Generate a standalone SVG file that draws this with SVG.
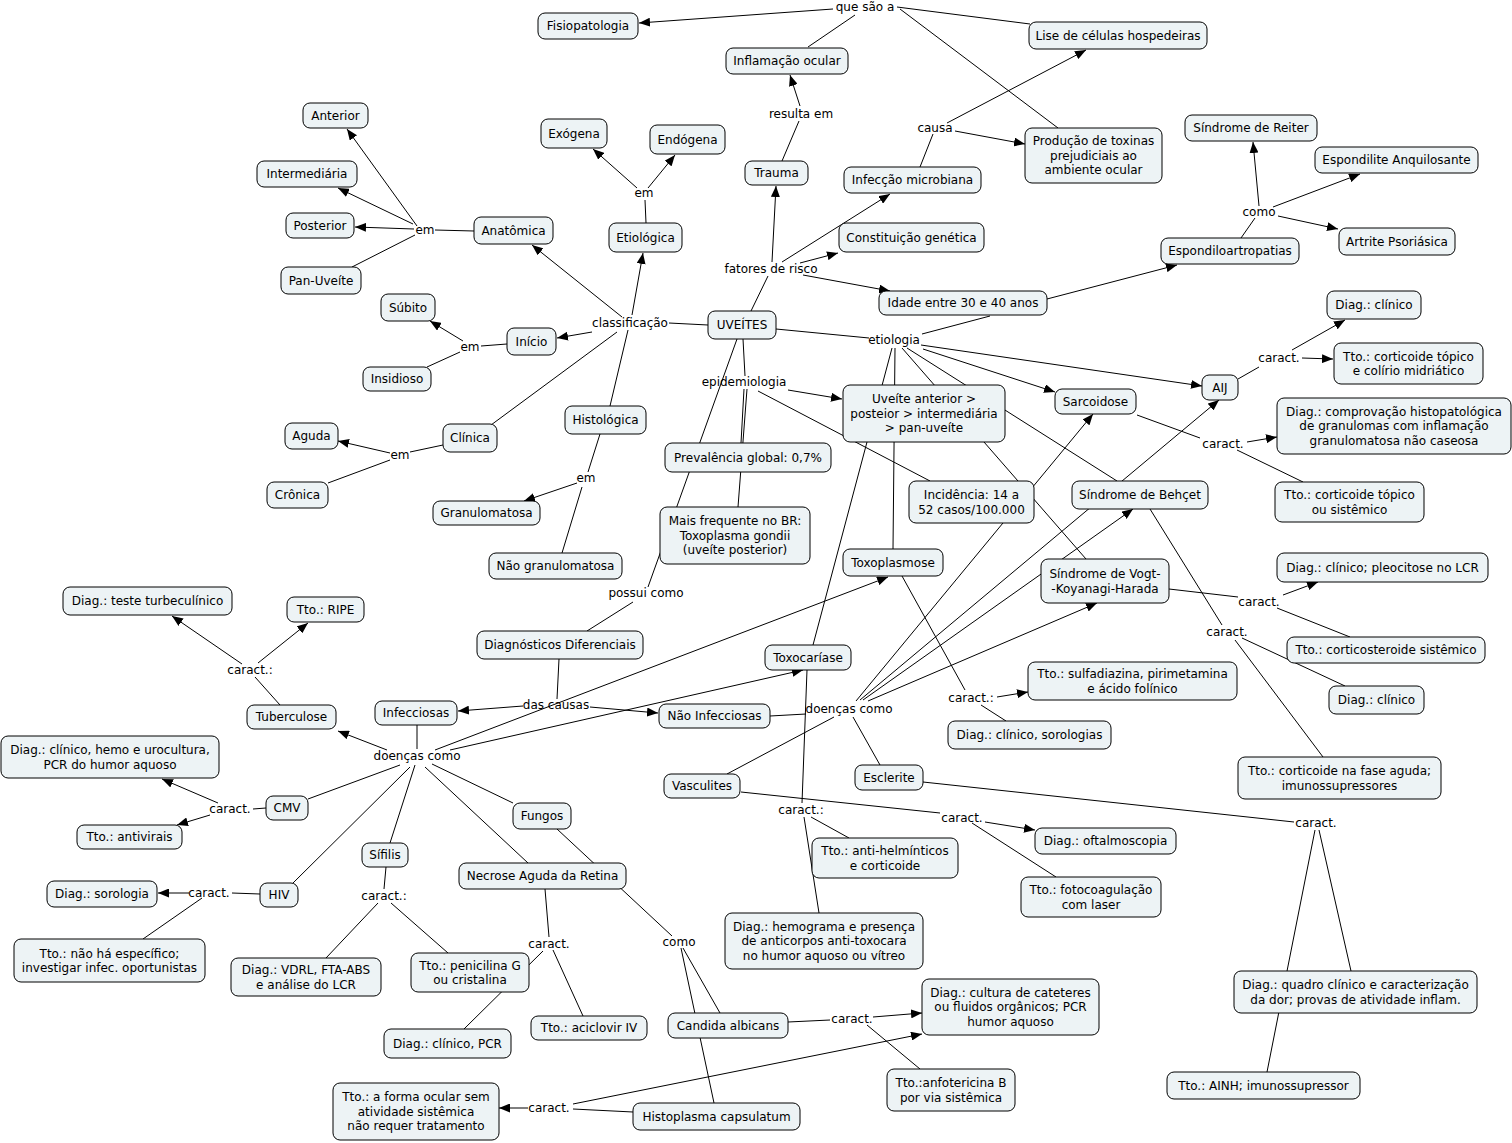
<svg xmlns="http://www.w3.org/2000/svg" width="1512" height="1143" viewBox="0 0 1512 1143">
<defs>
<marker id="ah" viewBox="0 0 11 9" refX="11" refY="4.5" markerWidth="11" markerHeight="9" markerUnits="userSpaceOnUse" orient="auto">
<path d="M0,0 L11,4.5 L0,9 z" fill="#000"/>
</marker>
<style>
.n rect{fill:#edf3f5;stroke:#000;stroke-width:1;}
text{font-family:"DejaVu Sans","Verdana",sans-serif;font-size:12px;fill:#000;}
.n text{text-anchor:middle;}
.lb text{text-anchor:middle;}
#connectors line{stroke:#000;stroke-width:1;fill:none;}
#connectors line.a{marker-end:url(#ah);}
</style>
</defs>
<rect width="1512" height="1143" fill="#fff"/>
<g id="connectors">
<line class="a" x1="833" y1="9" x2="639" y2="23"/>
<line x1="808" y1="47" x2="855" y2="15"/>
<line x1="1030" y1="24" x2="897" y2="7"/>
<line x1="1058" y1="128" x2="900" y2="9"/>
<line x1="782" y1="161" x2="799" y2="121"/>
<line class="a" x1="800" y1="106" x2="790" y2="75"/>
<line x1="920" y1="167" x2="933" y2="134"/>
<line class="a" x1="947" y1="123" x2="1086" y2="50"/>
<line class="a" x1="955" y1="131" x2="1025" y2="144"/>
<line x1="751" y1="311" x2="768" y2="276"/>
<line class="a" x1="772" y1="262" x2="776" y2="186"/>
<line class="a" x1="782" y1="262" x2="890" y2="194"/>
<line class="a" x1="800" y1="263" x2="838" y2="253"/>
<line class="a" x1="803" y1="275" x2="890" y2="291"/>
<line class="a" x1="1047" y1="299" x2="1177" y2="265"/>
<line x1="990" y1="316" x2="922" y2="334"/>
<line x1="1241" y1="238" x2="1255" y2="218"/>
<line class="a" x1="1259" y1="206" x2="1253" y2="142"/>
<line class="a" x1="1273" y1="207" x2="1360" y2="174"/>
<line class="a" x1="1278" y1="216" x2="1338" y2="229"/>
<line x1="708" y1="325" x2="669" y2="323"/>
<line class="a" x1="622" y1="317" x2="532" y2="245"/>
<line class="a" x1="632" y1="315" x2="643" y2="253"/>
<line class="a" x1="592" y1="332" x2="557" y2="338"/>
<line x1="617" y1="332" x2="491" y2="425"/>
<line x1="628" y1="330" x2="610" y2="406"/>
<line x1="474" y1="231" x2="435" y2="230"/>
<line class="a" x1="417" y1="226" x2="347" y2="129"/>
<line class="a" x1="413" y1="224" x2="338" y2="188"/>
<line class="a" x1="414" y1="229" x2="355" y2="227"/>
<line x1="415" y1="235" x2="352" y2="267"/>
<line x1="646" y1="223" x2="645" y2="200"/>
<line class="a" x1="637" y1="188" x2="593" y2="149"/>
<line class="a" x1="648" y1="188" x2="675" y2="155"/>
<line x1="507" y1="344" x2="481" y2="346"/>
<line class="a" x1="463" y1="341" x2="430" y2="321"/>
<line x1="460" y1="352" x2="427" y2="367"/>
<line x1="443" y1="445" x2="410" y2="452"/>
<line class="a" x1="390" y1="453" x2="338" y2="441"/>
<line x1="390" y1="460" x2="328" y2="483"/>
<line x1="600" y1="434" x2="588" y2="472"/>
<line class="a" x1="577" y1="483" x2="524" y2="501"/>
<line x1="582" y1="487" x2="562" y2="553"/>
<line x1="776" y1="329" x2="869" y2="338"/>
<line class="a" x1="923" y1="349" x2="1055" y2="392"/>
<line class="a" x1="921" y1="345" x2="1202" y2="386"/>
<line x1="892" y1="348" x2="813" y2="645"/>
<line x1="895" y1="348" x2="893" y2="549"/>
<line x1="902" y1="348" x2="1086" y2="559"/>
<line x1="907" y1="348" x2="1117" y2="481"/>
<line x1="737" y1="339" x2="648" y2="587"/>
<line x1="633" y1="602" x2="587" y2="631"/>
<line x1="743" y1="339" x2="745" y2="376"/>
<line x1="744" y1="389" x2="741" y2="443"/>
<line x1="747" y1="389" x2="738" y2="507"/>
<line class="a" x1="788" y1="390" x2="842" y2="399"/>
<line x1="758" y1="391" x2="930" y2="481"/>
<line x1="1238" y1="379" x2="1259" y2="367"/>
<line class="a" x1="1292" y1="350" x2="1345" y2="320"/>
<line class="a" x1="1302" y1="358" x2="1333" y2="359"/>
<line x1="1137" y1="415" x2="1200" y2="438"/>
<line class="a" x1="1247" y1="442" x2="1277" y2="437"/>
<line x1="1237" y1="450" x2="1303" y2="482"/>
<line class="a" x1="856" y1="701" x2="1093" y2="414"/>
<line class="a" x1="860" y1="700" x2="1219" y2="400"/>
<line class="a" x1="863" y1="700" x2="1133" y2="509"/>
<line class="a" x1="868" y1="701" x2="1097" y2="603"/>
<line x1="770" y1="716" x2="806" y2="714"/>
<line x1="834" y1="717" x2="727" y2="774"/>
<line x1="853" y1="717" x2="880" y2="765"/>
<line x1="902" y1="576" x2="965" y2="690"/>
<line class="a" x1="997" y1="697" x2="1028" y2="692"/>
<line x1="981" y1="705" x2="1006" y2="721"/>
<line x1="1150" y1="509" x2="1222" y2="625"/>
<line x1="1235" y1="640" x2="1323" y2="757"/>
<line x1="1242" y1="638" x2="1345" y2="686"/>
<line x1="1169" y1="589" x2="1238" y2="597"/>
<line class="a" x1="1283" y1="595" x2="1318" y2="582"/>
<line x1="1277" y1="608" x2="1350" y2="637"/>
<line x1="559" y1="659" x2="557" y2="699"/>
<line class="a" x1="523" y1="706" x2="458" y2="711"/>
<line class="a" x1="590" y1="707" x2="658" y2="713"/>
<line x1="417" y1="725" x2="417" y2="749"/>
<line class="a" x1="387" y1="750" x2="338" y2="731"/>
<line x1="400" y1="765" x2="308" y2="799"/>
<line x1="410" y1="767" x2="293" y2="883"/>
<line x1="415" y1="765" x2="390" y2="843"/>
<line x1="432" y1="764" x2="513" y2="803"/>
<line x1="425" y1="767" x2="528" y2="863"/>
<line class="a" x1="435" y1="750" x2="888" y2="577"/>
<line class="a" x1="450" y1="750" x2="803" y2="670"/>
<line x1="280" y1="705" x2="255" y2="677"/>
<line class="a" x1="242" y1="664" x2="172" y2="616"/>
<line class="a" x1="258" y1="663" x2="308" y2="623"/>
<line x1="266" y1="808" x2="253" y2="809"/>
<line class="a" x1="218" y1="803" x2="162" y2="779"/>
<line class="a" x1="210" y1="815" x2="177" y2="825"/>
<line x1="260" y1="894" x2="232" y2="893"/>
<line class="a" x1="189" y1="893" x2="158" y2="893"/>
<line x1="202" y1="898" x2="143" y2="939"/>
<line x1="386" y1="867" x2="384" y2="889"/>
<line x1="378" y1="903" x2="326" y2="958"/>
<line x1="391" y1="903" x2="448" y2="953"/>
<line x1="557" y1="829" x2="672" y2="936"/>
<line x1="545" y1="889" x2="549" y2="937"/>
<line x1="553" y1="950" x2="583" y2="1016"/>
<line x1="543" y1="951" x2="464" y2="1029"/>
<line x1="683" y1="948" x2="720" y2="1013"/>
<line x1="681" y1="948" x2="714" y2="1103"/>
<line x1="788" y1="1022" x2="830" y2="1020"/>
<line class="a" x1="873" y1="1017" x2="922" y2="1013"/>
<line x1="867" y1="1025" x2="920" y2="1069"/>
<line x1="633" y1="1112" x2="573" y2="1109"/>
<line class="a" x1="528" y1="1108" x2="499" y2="1108"/>
<line class="a" x1="573" y1="1104" x2="922" y2="1034"/>
<line x1="807" y1="670" x2="802" y2="803"/>
<line x1="804" y1="817" x2="819" y2="913"/>
<line x1="811" y1="817" x2="849" y2="838"/>
<line x1="741" y1="792" x2="940" y2="813"/>
<line class="a" x1="985" y1="822" x2="1035" y2="830"/>
<line x1="972" y1="823" x2="1056" y2="877"/>
<line x1="923" y1="782" x2="1294" y2="822"/>
<line x1="1315" y1="830" x2="1267" y2="1072"/>
<line x1="1319" y1="830" x2="1351" y2="971"/>
</g>
<g id="link-labels" class="lb">
<text x="865" y="10.5">que são a</text>
<text x="801" y="118">resulta em</text>
<text x="935" y="132">causa</text>
<text x="771" y="273">fatores de risco</text>
<text x="1259" y="216">como</text>
<text x="1279" y="362">caract.</text>
<text x="1223" y="448">caract.</text>
<text x="425" y="234">em</text>
<text x="644" y="197">em</text>
<text x="630" y="327">classificação</text>
<text x="470" y="351">em</text>
<text x="400" y="459">em</text>
<text x="586" y="482">em</text>
<text x="894" y="344">etiologia</text>
<text x="744" y="386">epidemiologia</text>
<text x="646" y="597">possui como</text>
<text x="556" y="709">das causas</text>
<text x="417" y="760">doenças como</text>
<text x="849" y="713">doenças como</text>
<text x="250" y="674">caract.:</text>
<text x="230" y="813">caract.</text>
<text x="209" y="897">caract.</text>
<text x="384" y="900">caract.:</text>
<text x="549" y="948">caract.</text>
<text x="679" y="946">como</text>
<text x="549" y="1112">caract.</text>
<text x="852" y="1023">caract.</text>
<text x="801" y="814">caract.:</text>
<text x="971" y="702">caract.:</text>
<text x="962" y="822">caract.</text>
<text x="1316" y="827">caract.</text>
<text x="1259" y="606">caract.</text>
<text x="1227" y="636">caract.</text>
</g>
<g id="fisio" class="n"><rect x="538" y="13" width="100" height="26" rx="7"/><text x="588" y="30.3">Fisiopatologia</text></g>
<g id="inflam" class="n"><rect x="726" y="48" width="122" height="26" rx="7"/><text x="787" y="65.3">Inflamação ocular</text></g>
<g id="lise" class="n"><rect x="1029" y="22" width="178" height="27" rx="7"/><text x="1118" y="39.8">Lise de células hospedeiras</text></g>
<g id="trauma" class="n"><rect x="745" y="161" width="63" height="24" rx="7"/><text x="776.5" y="177.3">Trauma</text></g>
<g id="producao" class="n"><rect x="1025" y="128" width="137" height="55" rx="7"/><text x="1093.5" y="145.4">Produção de toxinas</text><text x="1093.5" y="159.8">prejudiciais ao</text><text x="1093.5" y="174.2">ambiente ocular</text></g>
<g id="infeccao" class="n"><rect x="844" y="167" width="137" height="26" rx="7"/><text x="912.5" y="184.3">Infecção microbiana</text></g>
<g id="constit" class="n"><rect x="839" y="223" width="145" height="29" rx="7"/><text x="911.5" y="241.8">Constituição genética</text></g>
<g id="idade" class="n"><rect x="879" y="291" width="168" height="24" rx="7"/><text x="963" y="307.3">Idade entre 30 e 40 anos</text></g>
<g id="uveites" class="n"><rect x="708" y="311" width="68" height="28" rx="7"/><text x="742" y="329.3">UVEÍTES</text></g>
<g id="reiter" class="n"><rect x="1185" y="115" width="132" height="26" rx="7"/><text x="1251" y="132.3">Síndrome de Reiter</text></g>
<g id="espondilite" class="n"><rect x="1315" y="147" width="163" height="26" rx="7"/><text x="1396.5" y="164.3">Espondilite Anquilosante</text></g>
<g id="artrite" class="n"><rect x="1339" y="228" width="116" height="27" rx="7"/><text x="1397" y="245.8">Artrite Psoriásica</text></g>
<g id="espondilo" class="n"><rect x="1161" y="238" width="138" height="26" rx="7"/><text x="1230" y="255.3">Espondiloartropatias</text></g>
<g id="diag_aij" class="n"><rect x="1327" y="291" width="94" height="28" rx="7"/><text x="1374" y="309.3">Diag.: clínico</text></g>
<g id="tto_aij" class="n"><rect x="1334" y="343" width="149" height="41" rx="7"/><text x="1408.5" y="360.6">Tto.: corticoide tópico</text><text x="1408.5" y="375">e colírio midriático</text></g>
<g id="aij" class="n"><rect x="1202" y="375" width="36" height="25" rx="7"/><text x="1220" y="391.8">AIJ</text></g>
<g id="sarcoidose" class="n"><rect x="1055" y="389" width="81" height="25" rx="7"/><text x="1095.5" y="405.8">Sarcoidose</text></g>
<g id="diag_sarc" class="n"><rect x="1277" y="398" width="234" height="56" rx="7"/><text x="1394" y="415.9">Diag.: comprovação histopatológica</text><text x="1394" y="430.3">de granulomas com inflamação</text><text x="1394" y="444.7">granulomatosa não caseosa</text></g>
<g id="tto_sarc" class="n"><rect x="1275" y="482" width="149" height="40" rx="7"/><text x="1349.5" y="499.1">Tto.: corticoide tópico</text><text x="1349.5" y="513.5">ou sistêmico</text></g>
<g id="behcet" class="n"><rect x="1072" y="481" width="136" height="28" rx="7"/><text x="1140" y="499.3">Síndrome de Behçet</text></g>
<g id="anterior" class="n"><rect x="303" y="103" width="65" height="25" rx="7"/><text x="335.5" y="119.8">Anterior</text></g>
<g id="intermediaria" class="n"><rect x="257" y="161" width="100" height="26" rx="7"/><text x="307" y="178.3">Intermediária</text></g>
<g id="posterior" class="n"><rect x="286" y="213" width="68" height="25" rx="7"/><text x="320" y="229.8">Posterior</text></g>
<g id="panuveite" class="n"><rect x="281" y="267" width="80" height="27" rx="7"/><text x="321" y="284.8">Pan-Uveíte</text></g>
<g id="anatomica" class="n"><rect x="474" y="217" width="79" height="27" rx="7"/><text x="513.5" y="234.8">Anatômica</text></g>
<g id="exogena" class="n"><rect x="541" y="119" width="66" height="29" rx="7"/><text x="574" y="137.8">Exógena</text></g>
<g id="endogena" class="n"><rect x="650" y="125" width="75" height="29" rx="7"/><text x="687.5" y="143.8">Endógena</text></g>
<g id="etiologica" class="n"><rect x="609" y="223" width="73" height="29" rx="7"/><text x="645.5" y="241.8">Etiológica</text></g>
<g id="subito" class="n"><rect x="381" y="294" width="54" height="27" rx="7"/><text x="408" y="311.8">Súbito</text></g>
<g id="inicio" class="n"><rect x="507" y="328" width="49" height="27" rx="7"/><text x="531.5" y="345.8">Início</text></g>
<g id="insidioso" class="n"><rect x="363" y="367" width="68" height="24" rx="7"/><text x="397" y="383.3">Insidioso</text></g>
<g id="clinica" class="n"><rect x="443" y="424" width="54" height="28" rx="7"/><text x="470" y="442.3">Clínica</text></g>
<g id="aguda" class="n"><rect x="285" y="423" width="53" height="26" rx="7"/><text x="311.5" y="440.3">Aguda</text></g>
<g id="cronica" class="n"><rect x="267" y="482" width="61" height="26" rx="7"/><text x="297.5" y="499.3">Crônica</text></g>
<g id="histologica" class="n"><rect x="565" y="406" width="81" height="28" rx="7"/><text x="605.5" y="424.3">Histológica</text></g>
<g id="granulomatosa" class="n"><rect x="433" y="501" width="107" height="24" rx="7"/><text x="486.5" y="517.3">Granulomatosa</text></g>
<g id="naogranulomatosa" class="n"><rect x="489" y="553" width="133" height="26" rx="7"/><text x="555.5" y="570.3">Não granulomatosa</text></g>
<g id="uveite_ant" class="n"><rect x="843" y="385" width="162" height="57" rx="7"/><text x="924" y="403.4">Uveíte anterior &gt;</text><text x="924" y="417.8">posteior &gt; intermediária</text><text x="924" y="432.2">&gt; pan-uveíte</text></g>
<g id="prevalencia" class="n"><rect x="665" y="443" width="166" height="29" rx="7"/><text x="748" y="461.8">Prevalência global: 0,7%</text></g>
<g id="maisfreq" class="n"><rect x="660" y="507" width="150" height="57" rx="7"/><text x="735" y="525.4">Mais frequente no BR:</text><text x="735" y="539.8">Toxoplasma gondii</text><text x="735" y="554.2">(uveíte posterior)</text></g>
<g id="incidencia" class="n"><rect x="909" y="481" width="125" height="42" rx="7"/><text x="971.5" y="499.1">Incidência: 14 a</text><text x="971.5" y="513.5">52 casos/100.000</text></g>
<g id="toxoplasmose" class="n"><rect x="843" y="549" width="100" height="27" rx="7"/><text x="893" y="566.8">Toxoplasmose</text></g>
<g id="vkh" class="n"><rect x="1041" y="559" width="128" height="44" rx="7"/><text x="1105" y="578.1">Síndrome de Vogt-</text><text x="1105" y="592.5">-Koyanagi-Harada</text></g>
<g id="diag_vkh" class="n"><rect x="1277" y="553" width="211" height="29" rx="7"/><text x="1382.5" y="571.8">Diag.: clínico; pleocitose no LCR</text></g>
<g id="tto_vkh" class="n"><rect x="1287" y="637" width="198" height="26" rx="7"/><text x="1386" y="654.3">Tto.: corticosteroide sistêmico</text></g>
<g id="diag_behcet" class="n"><rect x="1329" y="686" width="95" height="28" rx="7"/><text x="1376.5" y="704.3">Diag.: clínico</text></g>
<g id="tto_toxop" class="n"><rect x="1028" y="662" width="209" height="38" rx="7"/><text x="1132.5" y="678.1">Tto.: sulfadiazina, pirimetamina</text><text x="1132.5" y="692.5">e ácido folínico</text></g>
<g id="diag_toxop" class="n"><rect x="948" y="721" width="163" height="28" rx="7"/><text x="1029.5" y="739.3">Diag.: clínico, sorologias</text></g>
<g id="tto_behcet" class="n"><rect x="1238" y="757" width="203" height="42" rx="7"/><text x="1339.5" y="775.1">Tto.: corticoide na fase aguda;</text><text x="1339.5" y="789.5">imunossupressores</text></g>
<g id="diag_tb" class="n"><rect x="63" y="587" width="169" height="28" rx="7"/><text x="147.5" y="605.3">Diag.: teste turbeculínico</text></g>
<g id="tto_tb" class="n"><rect x="287" y="597" width="77" height="25" rx="7"/><text x="325.5" y="613.8">Tto.: RIPE</text></g>
<g id="tuberculose" class="n"><rect x="247" y="705" width="89" height="24" rx="7"/><text x="291.5" y="721.3">Tuberculose</text></g>
<g id="infecciosas" class="n"><rect x="375" y="701" width="82" height="24" rx="7"/><text x="416" y="717.3">Infecciosas</text></g>
<g id="diag_cmv" class="n"><rect x="1" y="736" width="218" height="42" rx="7"/><text x="110" y="754.1">Diag.: clínico, hemo e urocultura,</text><text x="110" y="768.5">PCR do humor aquoso</text></g>
<g id="cmv" class="n"><rect x="266" y="796" width="42" height="24" rx="7"/><text x="287" y="812.3">CMV</text></g>
<g id="tto_cmv" class="n"><rect x="77" y="825" width="105" height="24" rx="7"/><text x="129.5" y="841.3">Tto.: antivirais</text></g>
<g id="sifilis" class="n"><rect x="362" y="843" width="46" height="24" rx="7"/><text x="385" y="859.3">Sífilis</text></g>
<g id="hiv" class="n"><rect x="260" y="883" width="38" height="24" rx="7"/><text x="279" y="899.3">HIV</text></g>
<g id="diag_hiv" class="n"><rect x="47" y="881" width="110" height="26" rx="7"/><text x="102" y="898.3">Diag.: sorologia</text></g>
<g id="tto_hiv" class="n"><rect x="14" y="939" width="191" height="43" rx="7"/><text x="109.5" y="957.6">Tto.: não há específico;</text><text x="109.5" y="972">investigar infec. oportunistas</text></g>
<g id="diag_sif" class="n"><rect x="231" y="958" width="150" height="38" rx="7"/><text x="306" y="974.1">Diag.: VDRL, FTA-ABS</text><text x="306" y="988.5">e análise do LCR</text></g>
<g id="tto_sif" class="n"><rect x="411" y="953" width="118" height="39" rx="7"/><text x="470" y="969.6">Tto.: penicilina G</text><text x="470" y="984">ou cristalina</text></g>
<g id="diag_nar" class="n"><rect x="384" y="1029" width="127" height="29" rx="7"/><text x="447.5" y="1047.8">Diag.: clínico, PCR</text></g>
<g id="tto_histo" class="n"><rect x="333" y="1083" width="166" height="57" rx="7"/><text x="416" y="1101.4">Tto.: a forma ocular sem</text><text x="416" y="1115.8">atividade sistêmica</text><text x="416" y="1130.2">não requer tratamento</text></g>
<g id="nar" class="n"><rect x="459" y="863" width="167" height="26" rx="7"/><text x="542.5" y="880.3">Necrose Aguda da Retina</text></g>
<g id="tto_nar" class="n"><rect x="531" y="1016" width="116" height="24" rx="7"/><text x="589" y="1032.3">Tto.: aciclovir IV</text></g>
<g id="candida" class="n"><rect x="668" y="1013" width="120" height="25" rx="7"/><text x="728" y="1029.8">Candida albicans</text></g>
<g id="histoplasma" class="n"><rect x="633" y="1103" width="167" height="27" rx="7"/><text x="716.5" y="1120.8">Histoplasma capsulatum</text></g>
<g id="fungos" class="n"><rect x="513" y="803" width="58" height="26" rx="7"/><text x="542" y="820.3">Fungos</text></g>
<g id="diag_dif" class="n"><rect x="477" y="631" width="166" height="28" rx="7"/><text x="560" y="649.3">Diagnósticos Diferenciais</text></g>
<g id="nao_infecciosas" class="n"><rect x="659" y="704" width="111" height="24" rx="7"/><text x="714.5" y="720.3">Não Infecciosas</text></g>
<g id="toxocariase" class="n"><rect x="765" y="645" width="86" height="25" rx="7"/><text x="808" y="661.8">Toxocaríase</text></g>
<g id="vasculites" class="n"><rect x="664" y="774" width="76" height="24" rx="7"/><text x="702" y="790.3">Vasculites</text></g>
<g id="esclerite" class="n"><rect x="855" y="765" width="68" height="25" rx="7"/><text x="889" y="781.8">Esclerite</text></g>
<g id="tto_toxoc" class="n"><rect x="812" y="838" width="146" height="40" rx="7"/><text x="885" y="855.1">Tto.: anti-helmínticos</text><text x="885" y="869.5">e corticoide</text></g>
<g id="diag_oft" class="n"><rect x="1035" y="828" width="141" height="26" rx="7"/><text x="1105.5" y="845.3">Diag.: oftalmoscopia</text></g>
<g id="tto_foto" class="n"><rect x="1021" y="877" width="140" height="40" rx="7"/><text x="1091" y="894.1">Tto.: fotocoagulação</text><text x="1091" y="908.5">com laser</text></g>
<g id="diag_toxoc" class="n"><rect x="725" y="913" width="198" height="56" rx="7"/><text x="824" y="930.9">Diag.: hemograma e presença</text><text x="824" y="945.3">de anticorpos anti-toxocara</text><text x="824" y="959.7">no humor aquoso ou vítreo</text></g>
<g id="diag_cult" class="n"><rect x="922" y="979" width="177" height="56" rx="7"/><text x="1010.5" y="996.9">Diag.: cultura de cateteres</text><text x="1010.5" y="1011.3">ou fluidos orgânicos; PCR</text><text x="1010.5" y="1025.7">humor aquoso</text></g>
<g id="tto_anfo" class="n"><rect x="887" y="1069" width="128" height="42" rx="7"/><text x="951" y="1087.1">Tto.:anfotericina B</text><text x="951" y="1101.5">por via sistêmica</text></g>
<g id="diag_escl" class="n"><rect x="1234" y="971" width="243" height="42" rx="7"/><text x="1355.5" y="989.1">Diag.: quadro clínico e caracterização</text><text x="1355.5" y="1003.5">da dor; provas de atividade inflam.</text></g>
<g id="tto_escl" class="n"><rect x="1167" y="1072" width="193" height="27" rx="7"/><text x="1263.5" y="1089.8">Tto.: AINH; imunossupressor</text></g>
</svg>
